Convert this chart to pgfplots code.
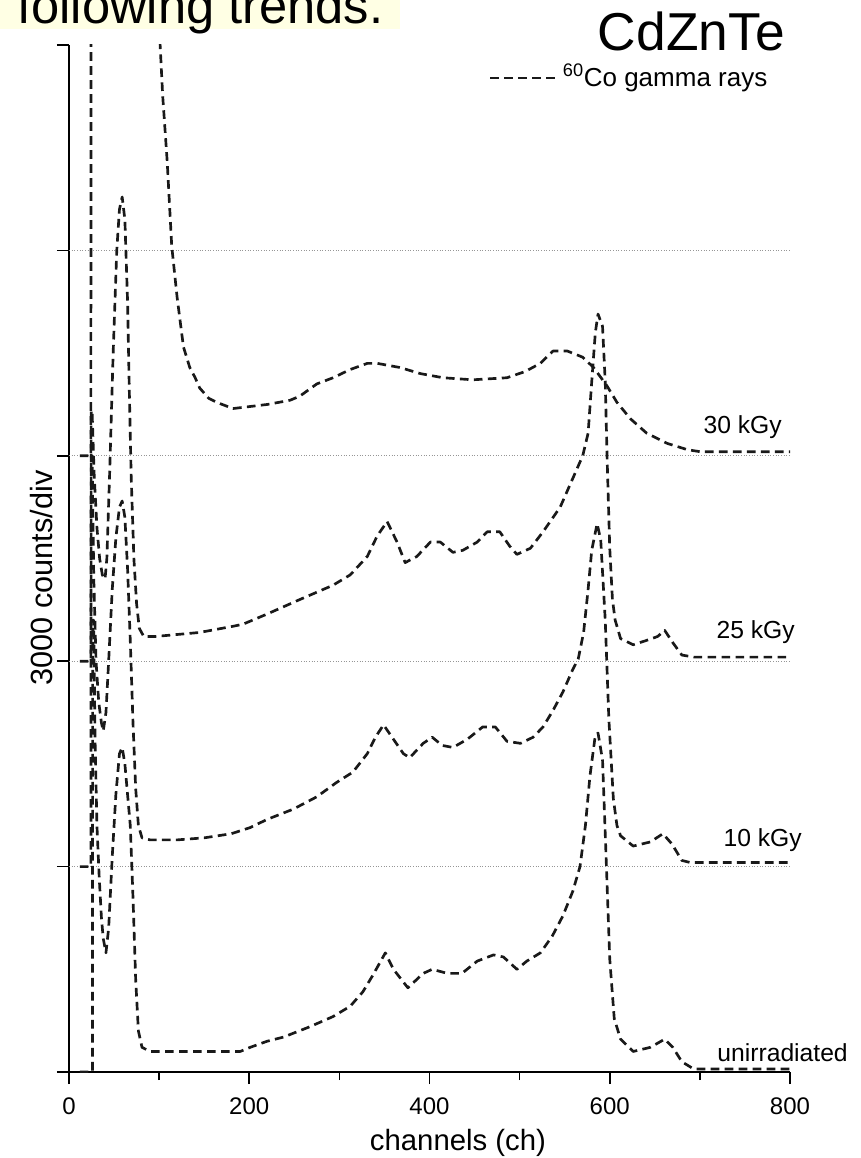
\documentclass[border=0pt]{standalone}
\usepackage{fontspec}
\setmainfont{Liberation Sans}
\usepackage{pgfplots}
\pgfplotsset{compat=1.18}
\definecolor{curvecol}{RGB}{25,25,25}
\definecolor{gridcol}{RGB}{150,150,150}
\definecolor{banner}{RGB}{255,255,228}
\tikzset{curve/.style={color=curvecol, line width=2.0pt, dash pattern=on 6.5pt off 4pt, line cap=butt, line join=round}}
\begin{document}
\begin{tikzpicture}
\useasboundingbox (0,0) rectangle (645.75pt,868.5pt);
\clip (0,0) rectangle (645.75pt,868.5pt);
\fill[banner] (0,847pt) rectangle (300pt,868.5pt);
\node[anchor=base west, inner sep=0pt, font=\fontsize{38}{38}\selectfont] at (12.75pt,850.5pt) {following trends.};
\node[anchor=east, inner sep=0pt, font=\fontsize{40}{40}\selectfont] at (588.75pt,845pt) {CdZnTe};
\draw[curve] (367.5pt,810pt) -- (418.5pt,810pt);
\node[anchor=west, inner sep=0pt, font=\fontsize{19.5}{19.5}\selectfont] at (422pt,810pt) {\textsuperscript{60}Co gamma rays};
\begin{axis}[
  at={(51.75pt,64.5pt)}, anchor=south west,
  scale only axis, width=540.75pt, height=770.25pt,
  xmin=0, xmax=800, ymin=0, ymax=5,
  axis x line*=bottom, axis y line*=left,
  axis line style={line width=1.3pt, black},
  xtick={0,200,400,600,800}, xticklabels={0,200,400,600,800},
  minor xtick={100,300,500,700},
  ytick={0,1,2,3,4,5}, yticklabels={},
  tick align=outside, major tick length=9pt, minor tick length=6pt,
  every tick/.style={black, line width=1.3pt},
  x tick label style={font=\fontsize{18}{18}\selectfont, inner sep=0pt, yshift=-10pt},
  clip=true,
]
\addplot[gridcol, line width=0.8pt, dash pattern=on 0.8pt off 1.2pt] coordinates {(0,1)(800,1)};
\addplot[gridcol, line width=0.8pt, dash pattern=on 0.8pt off 1.2pt] coordinates {(0,2)(800,2)};
\addplot[gridcol, line width=0.8pt, dash pattern=on 0.8pt off 1.2pt] coordinates {(0,3)(800,3)};
\addplot[gridcol, line width=0.8pt, dash pattern=on 0.8pt off 1.2pt] coordinates {(0,4)(800,4)};
% unirradiated (offset 0)
\addplot[curve] table[x=x, y expr=\thisrow{y}+0] {
x y
12 0
26 0
26.3 2.2
27.3 2.2
29 1.6
31 1.2
33.5 0.95
36 0.75
38 0.65
41 0.58
44 0.7
48 1.05
52 1.35
56 1.55
59 1.58
62 1.5
65 1.35
68 1.2
71 0.85
74 0.45
77 0.2
81 0.12
90 0.1
130 0.1
170 0.1
190 0.1
201 0.12
220 0.15
238 0.17
267 0.22
293 0.27
312 0.32
326 0.39
337 0.47
351 0.58
360 0.50
376 0.41
393 0.48
403 0.50
420 0.48
436 0.48
453 0.54
471 0.57
482 0.56
497 0.50
508 0.54
523 0.58
536 0.66
548 0.76
559 0.88
567 1.00
573 1.20
578 1.44
584 1.64
587 1.65
592 1.52
596 1.04
600 0.55
605 0.26
612 0.16
626 0.10
645 0.12
661 0.16
670 0.12
680 0.05
693 0.015
800 0.015
};
% 10 kGy (offset 1)
\addplot[curve] table[x=x, y expr=\thisrow{y}+1] {
x y
12 0
24.3 0
24.6 2.0
25.6 2.0
27.5 1.4
30 1.0
33 0.8
36 0.7
38 0.66
41 0.75
44 1.0
48 1.35
52 1.6
56 1.75
59 1.78
62 1.7
65 1.45
68 1.1
71 0.7
74 0.38
77 0.2
81 0.14
90 0.13
120 0.13
150 0.14
180 0.16
201 0.19
220 0.23
249 0.28
275 0.34
297 0.41
315 0.46
331 0.55
340 0.63
349 0.69
360 0.62
371 0.55
378 0.53
393 0.60
403 0.63
414 0.59
426 0.58
442 0.62
459 0.68
473 0.68
486 0.61
501 0.60
515 0.63
526 0.68
537 0.76
548 0.85
559 0.96
565 1.01
571 1.14
576 1.35
580 1.54
586 1.67
590 1.59
595 1.20
599 0.72
604 0.33
608 0.20
612 0.15
626 0.10
645 0.12
659 0.16
669 0.11
680 0.03
689 0.02
800 0.02
};
% 25 kGy (offset 2)
\addplot[curve] table[x=x, y expr=\thisrow{y}+2] {
x y
12 0
24.3 0
24.6 1.22
25.6 1.22
28 0.9
31 0.65
34 0.5
37 0.42
40 0.4
42 0.5
45 0.9
49 1.5
53 2.0
56 2.2
59 2.26
62 2.15
65 1.75
67 1.3
69 0.9
72 0.5
75 0.28
78 0.16
83 0.12
95 0.12
120 0.13
145 0.14
182 0.17
193 0.18
220 0.23
256 0.30
293 0.37
312 0.42
331 0.51
342 0.61
353 0.68
364 0.58
373 0.48
386 0.51
401 0.58
412 0.58
426 0.53
437 0.54
453 0.58
464 0.63
478 0.63
489 0.56
497 0.52
512 0.55
526 0.63
545 0.75
559 0.89
570 1.00
576 1.11
580 1.36
584 1.60
587 1.69
592 1.63
595 1.36
597 1.00
600 0.55
603 0.30
606 0.20
612 0.11
626 0.08
640 0.10
653 0.12
661 0.15
670 0.09
680 0.03
693 0.02
800 0.02
};
% 30 kGy (offset 3)
\addplot[curve] table[x=x, y expr=\thisrow{y}+3] {
x y
12 0
24.3 0
24.5 8
100 2.1
101 2.01
104 1.75
109 1.43
114 1.02
120 0.77
127 0.53
134 0.43
140 0.38
145 0.33
155 0.28
164 0.26
182 0.23
201 0.24
220 0.25
245 0.27
256 0.29
275 0.35
293 0.38
312 0.42
331 0.45
342 0.45
367 0.43
390 0.40
415 0.38
448 0.37
486 0.38
506 0.41
523 0.45
537 0.51
553 0.51
570 0.48
582 0.43
597 0.34
608 0.26
623 0.18
641 0.11
664 0.06
686 0.03
700 0.02
800 0.02
};
\end{axis}
\node[rotate=90, inner sep=0pt, font=\fontsize{23}{23}\selectfont] at (31pt,435pt) {3000 counts/div};
\node[inner sep=0pt, font=\fontsize{22}{22}\selectfont] at (343.5pt,11.5pt) {channels (ch)};
\node[anchor=east, inner sep=0pt, font=\fontsize{18.5}{18.5}\selectfont] at (586.5pt,548pt) {30 kGy};
\node[anchor=east, inner sep=0pt, font=\fontsize{18.5}{18.5}\selectfont] at (596.25pt,394.5pt) {25 kGy};
\node[anchor=east, inner sep=0pt, font=\fontsize{18.5}{18.5}\selectfont] at (601.5pt,238.5pt) {10 kGy};
\node[anchor=east, inner sep=0pt, font=\fontsize{18.5}{18.5}\selectfont] at (636pt,79pt) {unirradiated};
\end{tikzpicture}
\end{document}
